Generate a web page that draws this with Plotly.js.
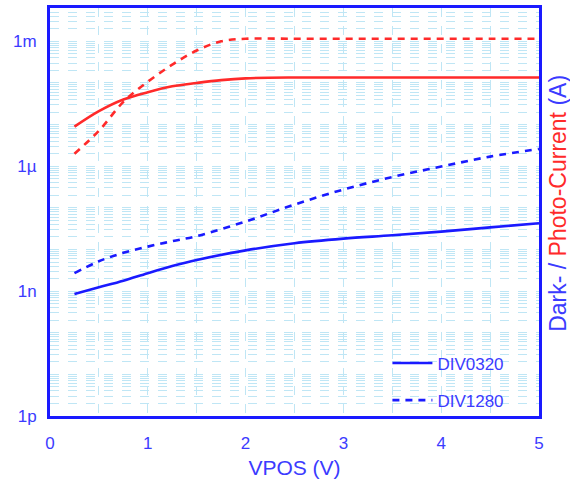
<!DOCTYPE html>
<html>
<head>
<meta charset="utf-8">
<script src="https://cdn.plot.ly/plotly-3.0.1.min.js"></script>
<style>html,body{margin:0;padding:0;background:#fff}#chart{width:570px;height:488px}</style>
</head>
<body>
<div id="chart"></div>
<script>
// Supply voltage VPOS (V)
const vpos = [0.25, 0.5, 0.75, 1.0, 1.25, 1.5, 1.75, 2.0, 2.5, 3.0, 3.5, 4.0, 4.5, 5.0];
const vposDark = [0.25, 0.5, 0.75, 1.0, 1.25, 1.5, 2.0, 2.5, 3.0, 3.5, 4.0, 4.5, 5.0];

// Photo-current (A)
const photoDIV0320 = [8.9e-6, 2.1e-5, 4.0e-5, 6.0e-5, 8.3e-5, 1.0e-4, 1.17e-4, 1.29e-4, 1.35e-4, 1.35e-4, 1.35e-4, 1.35e-4, 1.35e-4, 1.35e-4];
const photoDIV1280 = [2.0e-6, 7.1e-6, 3.5e-5, 1.07e-4, 2.75e-4, 6.0e-4, 1.0e-3, 1.15e-3, 1.15e-3, 1.15e-3, 1.15e-3, 1.15e-3, 1.15e-3, 1.15e-3];

// Dark current (A)
const darkDIV0320 = [8.5e-10, 1.23e-9, 1.78e-9, 2.7e-9, 4.0e-9, 5.6e-9, 9.5e-9, 1.41e-8, 1.82e-8, 2.19e-8, 2.69e-8, 3.39e-8, 4.27e-8];
const darkDIV1280 = [2.7e-9, 5.2e-9, 8.3e-9, 1.17e-8, 1.58e-8, 2.09e-8, 4.7e-8, 1.2e-7, 2.75e-7, 5.5e-7, 9.8e-7, 1.7e-6, 2.6e-6];

const seriesNames = ['DIV0320', 'DIV1280'];
const yTickVals = [1e-12, 1e-9, 1e-6, 1e-3];
const yTickText = ['1p', '1n', '1\u00b5', '1m'];
const xTickVals = [0, 1, 2, 3, 4, 5];

const BLUE = '#1a1aff';
const RED = '#ff2a2a';
const TXT = '#3b3bff';
const GRID = '#bfe6f5';
const dashStyle = '7px,6px';

const traces = [
  {x: vposDark, y: darkDIV0320, name: seriesNames[0], legendgroup: 'a', showlegend: true,
   mode: 'lines', line: {color: BLUE, width: 2.6, shape: 'spline'}},
  {x: vpos, y: photoDIV0320, name: seriesNames[0], legendgroup: 'a', showlegend: false,
   mode: 'lines', line: {color: RED, width: 2.6, shape: 'spline'}},
  {x: vposDark, y: darkDIV1280, name: seriesNames[1], legendgroup: 'b', showlegend: true,
   mode: 'lines', line: {color: BLUE, width: 2.6, shape: 'spline', dash: dashStyle}},
  {x: vpos, y: photoDIV1280, name: seriesNames[1], legendgroup: 'b', showlegend: false,
   mode: 'lines', line: {color: RED, width: 2.6, shape: 'spline', dash: dashStyle}}
];

const layout = {
  width: 570, height: 488,
  margin: {l: 50, r: 31, t: 8, b: 72},
  paper_bgcolor: '#fff', plot_bgcolor: '#fff',
  font: {family: 'Liberation Sans, Arial, sans-serif', color: TXT, size: 17},
  showlegend: true,
  legend: {x: 0.69, y: -0.006, xanchor: 'left', yanchor: 'bottom', bgcolor: 'rgba(0,0,0,0)',
           font: {size: 17, color: TXT}, tracegroupgap: 12, itemwidth: 40},
  xaxis: {
    range: [0, 5], tickvals: xTickVals, ticks: '', ticklen: 0, ticklabelstandoff: 10,
    showgrid: true, gridcolor: GRID, griddash: 'dash', gridwidth: 1,
    minor: {dtick: 0.5, showgrid: true, gridcolor: GRID, griddash: 'dash', gridwidth: 1},
    showline: true, linecolor: BLUE, linewidth: 3, mirror: true, zeroline: false,
    tickfont: {size: 17, color: TXT},
    title: {text: 'VPOS (V)', font: {size: 21, color: TXT}, standoff: 8}
  },
  yaxis: {
    type: 'log', range: [-12, -2.2], tickmode: 'array', tickvals: yTickVals, ticktext: yTickText,
    ticks: '', ticklabelstandoff: 7, showgrid: true, gridcolor: GRID, griddash: 'dash', gridwidth: 1,
    minor: {dtick: 'D1', showgrid: true, gridcolor: GRID, griddash: 'dash', gridwidth: 1},
    showline: true, linecolor: BLUE, linewidth: 3, mirror: true, zeroline: false,
    tickfont: {size: 17, color: TXT}
  },
  annotations: [{
    xref: 'paper', yref: 'paper', x: 1, y: 0.52, xanchor: 'center', yanchor: 'middle',
    xshift: 19, textangle: -90, showarrow: false,
    font: {size: 23, color: TXT},
    text: 'Dark- / <span style="color:#ff2a2a">Photo-Current</span> (A)'
  }]
};

Plotly.newPlot('chart', traces, layout, {displayModeBar: false, staticPlot: true});
</script>
</body>
</html>
